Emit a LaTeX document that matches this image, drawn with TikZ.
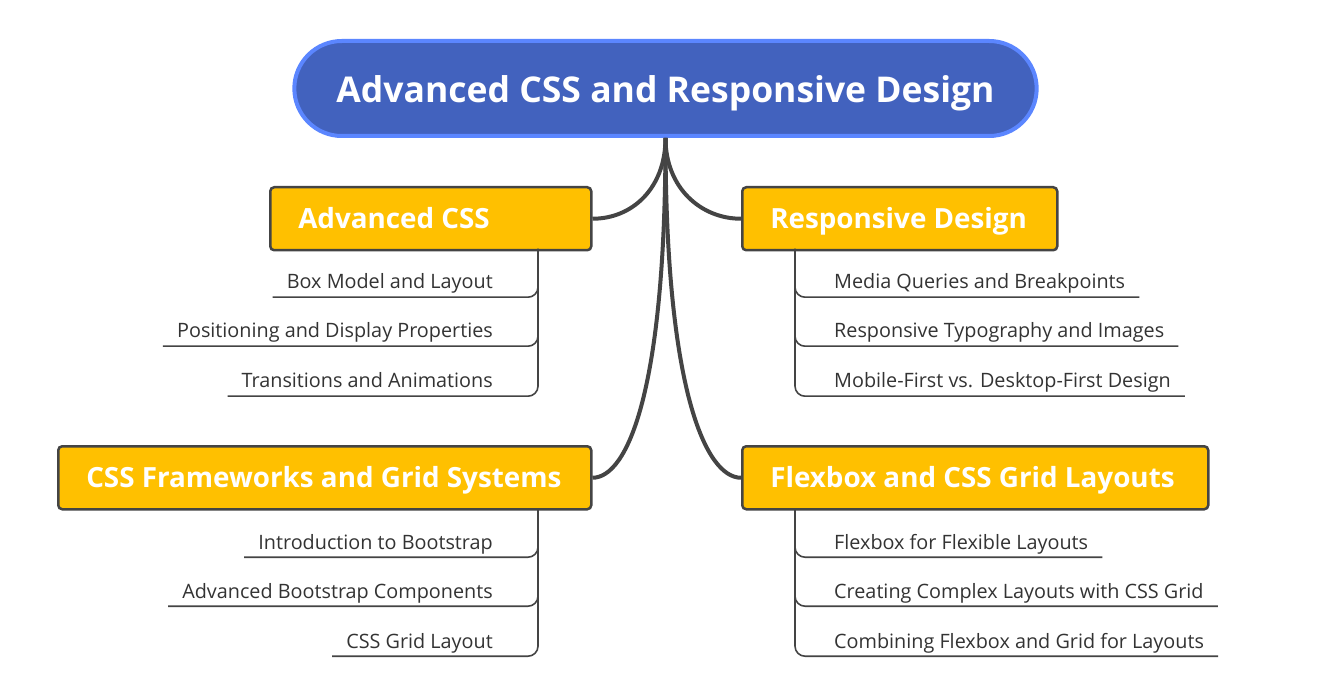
\documentclass[tikz,border=0pt]{standalone}
\usepackage{fontspec}
\setmainfont{Open Sans}
\usetikzlibrary{shapes.misc}
\definecolor{titleblue}{HTML}{4262BE}
\definecolor{titleedge}{HTML}{5B86FF}
\definecolor{boxgold}{HTML}{FFC000}
\definecolor{linegray}{HTML}{444444}
\definecolor{textgray}{HTML}{333333}
\tikzset{
  topic/.style={draw=linegray, line width=2.5pt, fill=boxgold, rounded corners=4pt,
    anchor=north west, minimum height=63pt, inner xsep=28pt,
    text height=22pt, text depth=2pt,
    text=white, font=\fontsize{27.8}{32}\selectfont\bfseries},
  item/.style={inner xsep=14pt, inner ysep=8pt, text depth=0pt, text=textgray,
    font=\fontsize{19.8}{22}\selectfont},
  branch/.style={draw=linegray, line width=4pt},
  twig/.style={draw=linegray, line width=1.6pt, rounded corners=10pt}
}
\newcommand{\topictext}[2]{\makebox[#1][l]{#2}}
\begin{document}
\begin{tikzpicture}[x=1pt,y=-1pt]
  \useasboundingbox[fill=white] (0,0) rectangle (1328,692);
  % Central topic
  \node[rounded rectangle, draw=titleedge, line width=4pt, fill=titleblue,
    minimum width=749pt, minimum height=95pt, text=white,
    font=\fontsize{35.5}{40}\selectfont\bfseries] (title) at (665.5,88.5)
    {\raisebox{-5pt}[\height][\depth]{Advanced CSS and Responsive Design}};
  % Main topics
  \node[topic] (adv) at (269,186) {\topictext{265pt}{Advanced CSS}};
  \node[topic] (resp) at (741,186) {\topictext{259pt}{Responsive Design}};
  \node[topic] (fw) at (57,445) {\topictext{477pt}{CSS Frameworks and Grid Systems}};
  \node[topic] (flex) at (741,445) {\topictext{410pt}{Flexbox and CSS Grid Layouts}};
  % Branches
  \draw[branch] (title.south) .. controls +(0,50) and +(40,0) .. (adv.east);
  \draw[branch] (title.south) .. controls +(0,50) and +(-40,0) .. (resp.west);
  \draw[branch] (title.south) .. controls +(0,253) and +(35,0) .. (fw.east);
  \draw[branch] (title.south) .. controls +(0,253) and +(-35,0) .. (flex.west);
  % Stems below the topics
  \coordinate (adv-stem) at (538,249);
  \coordinate (resp-stem) at (795,249);
  \coordinate (fw-stem) at (538,508);
  \coordinate (flex-stem) at (795,508);
  % Advanced CSS
  \node[item, anchor=base east] (adv1) at (507,289) {Box Model and Layout};
  \node[item, anchor=base east] (adv2) at (507,338) {Positioning and Display Properties};
  \node[item, anchor=base east] (adv3) at (507,388) {Transitions and Animations};
  \draw[twig] (adv1.south west) -| (adv-stem);
  \draw[twig] (adv2.south west) -| (adv-stem);
  \draw[twig] (adv3.south west) -| (adv-stem);
  % Responsive Design
  \node[item, anchor=base west] (resp1) at (820,289) {Media Queries and Breakpoints};
  \node[item, anchor=base west] (resp2) at (820,338) {Responsive Typography and Images};
  \node[item, anchor=base west] (resp3) at (820,388) {Mobile-First vs. Desktop-First Design};
  \draw[twig] (resp-stem) |- (resp1.south east);
  \draw[twig] (resp-stem) |- (resp2.south east);
  \draw[twig] (resp-stem) |- (resp3.south east);
  % CSS Frameworks and Grid Systems
  \node[item, anchor=base east] (fw1) at (507,549) {Introduction to Bootstrap};
  \node[item, anchor=base east] (fw2) at (507,598) {Advanced Bootstrap Components};
  \node[item, anchor=base east] (fw3) at (507,648) {CSS Grid Layout};
  \draw[twig] (fw1.south west) -| (fw-stem);
  \draw[twig] (fw2.south west) -| (fw-stem);
  \draw[twig] (fw3.south west) -| (fw-stem);
  % Flexbox and CSS Grid Layouts
  \node[item, anchor=base west] (flex1) at (820,549) {Flexbox for Flexible Layouts};
  \node[item, anchor=base west] (flex2) at (820,598) {Creating Complex Layouts with CSS Grid};
  \node[item, anchor=base west] (flex3) at (820,648) {Combining Flexbox and Grid for Layouts};
  \draw[twig] (flex-stem) |- (flex1.south east);
  \draw[twig] (flex-stem) |- (flex2.south east);
  \draw[twig] (flex-stem) |- (flex3.south east);
\end{tikzpicture}
\end{document}
